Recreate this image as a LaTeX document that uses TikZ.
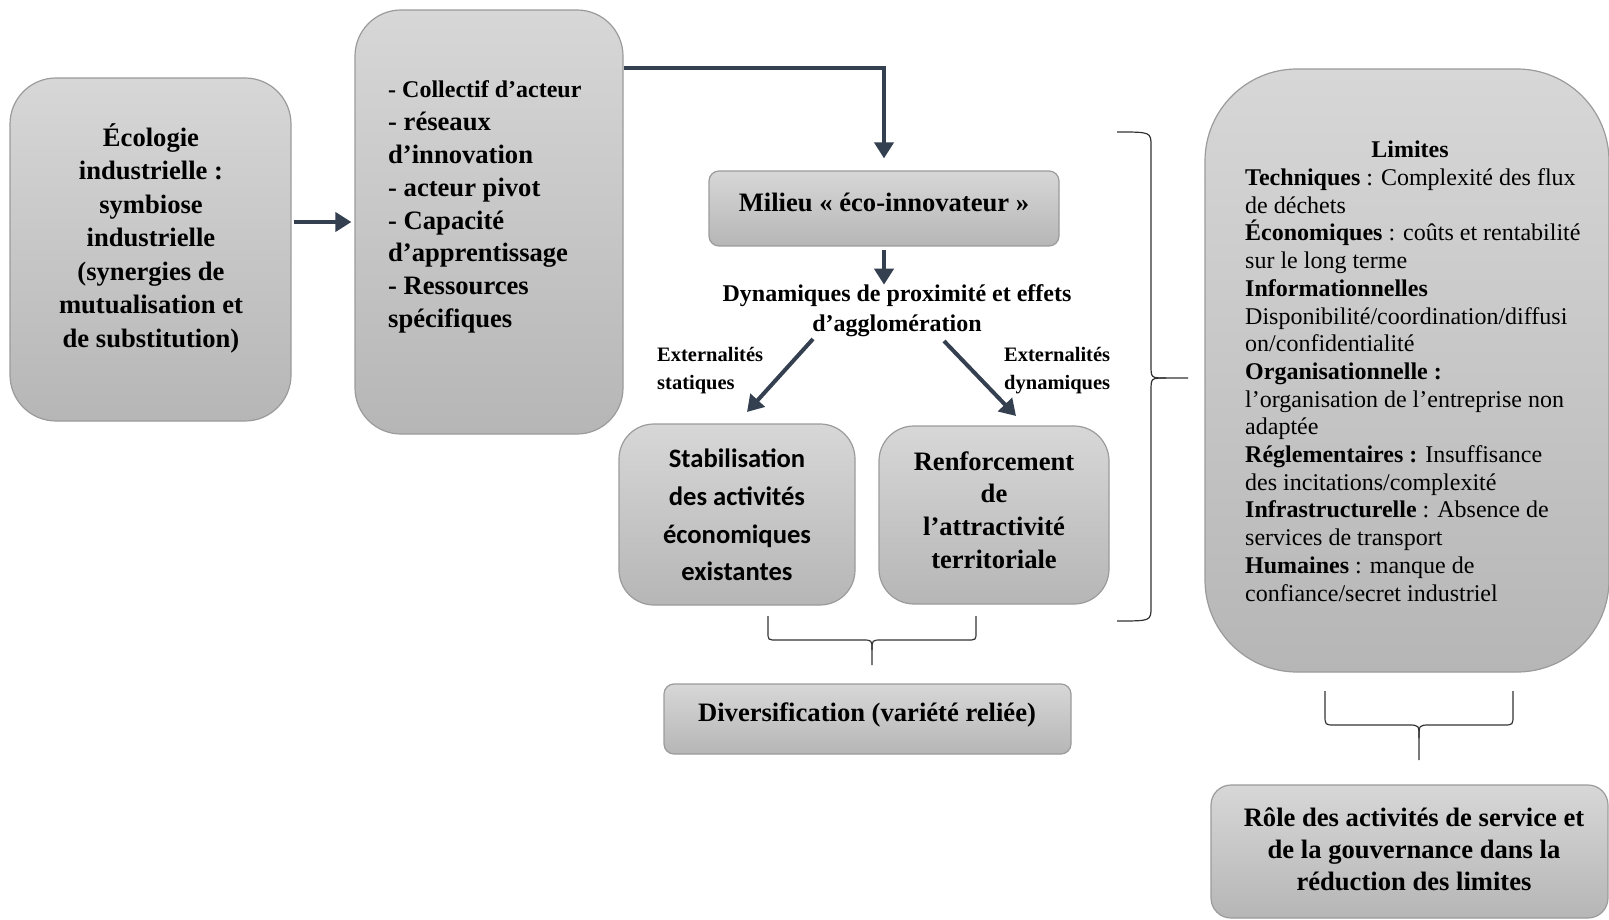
\documentclass[tikz,border=0pt]{standalone}
\usepackage{fontspec}
\setmainfont{Liberation Serif}
\newfontfamily\calibfont{Carlito}
\usetikzlibrary{arrows.meta}
\definecolor{boxtop}{RGB}{215,215,215}
\definecolor{boxbot}{RGB}{182,182,182}
\definecolor{boxline}{RGB}{155,155,155}
\definecolor{arrowc}{RGB}{52,63,80}
\definecolor{bracec}{RGB}{50,50,50}
\tikzset{
  box/.style={draw=boxline, line width=1.2pt, top color=boxtop, bottom color=boxbot, rounded corners=#1, inner sep=0pt, align=center},
  arr/.style={draw=arrowc, line width=4pt, -{Triangle[length=16pt,width=19pt]}},
  brc/.style={draw=bracec, line width=1.2pt},
  txt/.style={inner sep=0pt},
}
\begin{document}
\begin{tikzpicture}[x=1pt,y=-1pt]
\useasboundingbox (0,0) rectangle (1609,920);

% left box
\node[box=46, minimum width=281pt, minimum height=343pt] (eco) at (150.5,249.5) {};
\node[txt, font=\bfseries\fontsize{26.6}{33.5}\selectfont, align=center] (ecot) at (151,238)
  {Écologie\\industrielle :\\symbiose\\industrielle\\(synergies de\\mutualisation et\\de substitution)};

% second box
\node[box=46, minimum width=268pt, minimum height=424pt] (comp) at (489,222) {};
\node[txt, font=\bfseries\fontsize{26.6}{32.8}\selectfont, align=left, anchor=west] (compt) at (388,207)
  {{\fontsize{24}{32.8}\selectfont - Collectif d’acteur}\\- réseaux\\d’innovation\\- acteur pivot\\- Capacité\\d’apprentissage\\- Ressources\\spécifiques};

\draw[arr, shorten <=2pt, shorten >=3pt] (eco.east |- comp.west) -- (comp.west);

% milieu
\node[box=10, minimum width=350pt, minimum height=75pt] (milieu) at (884,208.5) {};
\node[txt, font=\bfseries\fontsize{26.6}{32}\selectfont] (milieut) at (884,202) {Milieu «~éco-innovateur~»};
\draw[arr, shorten >=12pt] (comp.east |- {(0,68)}) -| (milieu.north);

% dynamiques
\node[txt, font=\bfseries\fontsize{24}{30}\selectfont, align=center] (dyn) at (897,311)
  {Dynamiques de proximité et effets\\d’agglomération};
\draw[arr, shorten <=3pt] (milieu.south) -- (milieu.south |- dyn.north);

% externalities
\node[txt, font=\bfseries\fontsize{20.5}{28}\selectfont, align=left, anchor=west] (exs) at (657,371) {Externalités\\statiques};
\node[txt, font=\bfseries\fontsize{20.5}{28}\selectfont, align=left, anchor=west] (exd) at (1004,371) {Externalités\\dynamiques};

\node[box=35, minimum width=236pt, minimum height=181pt] (stab) at (737,514.5) {};
\node[txt, font=\calibfont\bfseries\fontsize{26.6}{37.7}\selectfont, align=center] (stabt) at (737,515)
  {Stabilisation\\des activités\\économiques\\existantes};
\node[box=35, minimum width=230pt, minimum height=178pt] (renf) at (994,515) {};
\node[txt, font=\bfseries\fontsize{26.6}{32.7}\selectfont, align=center] (renft) at (994,510)
  {Renforcement\\de\\l’attractivité\\territoriale};

\coordinate (dl1) at (813,339);
\coordinate (dl2) at (747,412);
\coordinate (dr1) at (944,341);
\coordinate (dr2) at (1016,416);
\draw[arr] (dl1) -- (dl2);
\draw[arr] (dr1) -- (dr2);

% bottom brace
\coordinate (b1l) at (768,616);
\coordinate (b1r) at (976,616);
\coordinate (b1t) at (872,665);
\draw[brc] (b1l) -- (768,632) .. controls (768,640) .. (777,640) -- (862,640) .. controls (872,640) .. (872,650) -- (b1t);
\draw[brc] (b1r) -- (976,632) .. controls (976,640) .. (967,640) -- (882,640) .. controls (872,640) .. (872,650);

\node[box=10, minimum width=407pt, minimum height=70pt] (div) at (867.5,719) {};
\node[txt, font=\bfseries\fontsize{26.6}{32}\selectfont] (divt) at (867,715) {Diversification (variété reliée)};

% big right brace
\coordinate (rbt) at (1117,132);
\coordinate (rbb) at (1117,621);
\coordinate (rbm) at (1188,378);
\draw[brc] (rbt) .. controls (1151,132) .. (1151,146) -- (1151,365) .. controls (1151,378) .. (1166,378) -- (rbm);
\draw[brc] (rbb) .. controls (1151,621) .. (1151,607) -- (1151,391) .. controls (1151,378) .. (1166,378);

% limites
\node[box=92, minimum width=404pt, minimum height=603pt] (lim) at (1407,370.5) {};
\node[txt, font=\bfseries\fontsize{24}{27.7}\selectfont] (limh) at (1410,149) {Limites};
\node[txt, font=\fontsize{24}{27.7}\selectfont, align=left, anchor=west] (limt) at (1245,385)
  {\textbf{Techniques} : Complexité des flux\\
   de déchets\\
   \textbf{Économiques} : coûts et rentabilité\\
   sur le long terme\\
   \textbf{Informationnelles}\\
   Disponibilité/coordination/diffusi\\
   on/confidentialité\\
   \textbf{Organisationnelle :}\\
   l’organisation de l’entreprise non\\
   adaptée\\
   \textbf{Réglementaires :} Insuffisance\\
   des incitations/complexité\\
   \textbf{Infrastructurelle} : Absence de\\
   services de transport\\
   \textbf{Humaines} : manque de\\
   confiance/secret industriel};

% bottom right brace
\coordinate (b2l) at (1325,691);
\coordinate (b2r) at (1513,691);
\coordinate (b2t) at (1419,760);
\draw[brc] (b2l) -- (1325,715) .. controls (1325,725) .. (1335,725) -- (1408,725) .. controls (1419,725) .. (1419,738) -- (b2t);
\draw[brc] (b2r) -- (1513,715) .. controls (1513,725) .. (1503,725) -- (1430,725) .. controls (1419,725) .. (1419,738);

\node[box=20, minimum width=397pt, minimum height=133pt] (role) at (1409.5,851.5) {};
\node[txt, font=\bfseries\fontsize{26.6}{32}\selectfont, align=center] (rolet) at (1414,849)
  {Rôle des activités de service et\\de la gouvernance dans la\\réduction des limites};

\end{tikzpicture}
\end{document}
